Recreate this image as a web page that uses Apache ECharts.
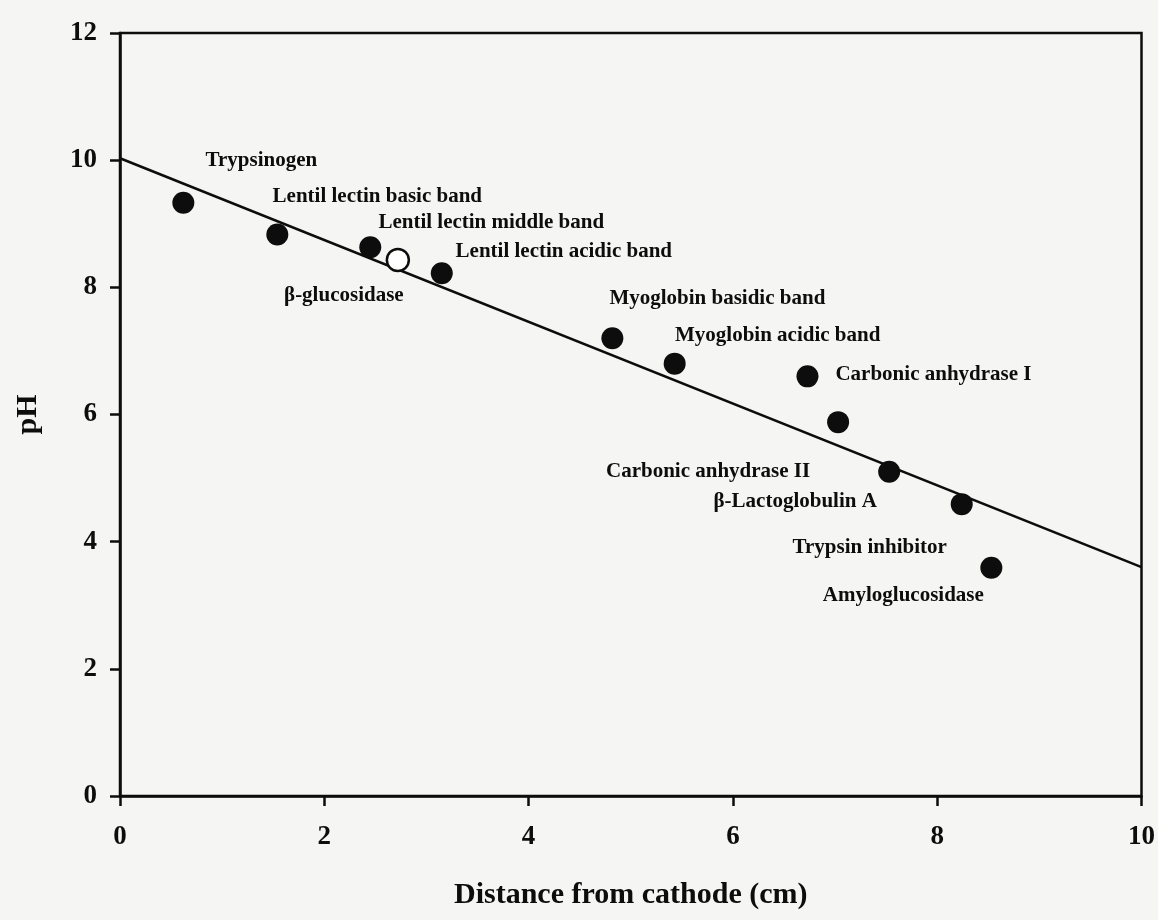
<!DOCTYPE html>
<html>
<head>
<meta charset="utf-8">
<script src="https://cdn.jsdelivr.net/npm/echarts@6/dist/echarts.min.js"></script>
<style>
  html, body { margin: 0; padding: 0; background: #f5f5f3; }
  #chart { width: 1158px; height: 920px; }
</style>
</head>
<body>
<div id="chart"></div>
<script>
// ---- Data ----
const proteins = [
  'Trypsinogen',
  'Lentil lectin basic band',
  'Lentil lectin middle band',
  'Lentil lectin acidic band',
  'β-glucosidase',
  'Myoglobin basidic band',
  'Myoglobin acidic band',
  'Carbonic anhydrase I',
  'Carbonic anhydrase II',
  'β-Lactoglobulin A',
  'Trypsin inhibitor',
  'Amyloglucosidase'
];
const distanceCm = [0.62, 1.54, 2.45, 3.15, 2.72, 4.82, 5.43, 6.73, 7.03, 7.53, 8.24, 8.53];
const pHValues   = [9.33, 8.83, 8.63, 8.22, 8.43, 7.20, 6.80, 6.60, 5.88, 5.10, 4.59, 3.59];
const hollowPoints = ['β-glucosidase'];

// fitted calibration line
const fitX = [0, 10];
const fitY = [10.03, 3.60];

const xTickValues = [0, 2, 4, 6, 8, 10];
const yTickValues = [0, 2, 4, 6, 8, 10, 12];

// ---- Styling (label placement relative to each marker, in px) ----
const labelOffsets = [
  [78, -42], [100, -38], [121, -25], [122, -22], [-54, 36], [105, -40],
  [103, -28], [126, -2], [-130, 49], [-94, 30], [-92, 43], [-88, 28]
];

const INK = '#0d0d0d';
const FONT = '"Liberation Serif", "Times New Roman", serif';

const scatterData = proteins.map((name, i) => {
  const hollow = hollowPoints.includes(name);
  return {
    name: name,
    value: [distanceCm[i], pHValues[i]],
    itemStyle: hollow
      ? { color: '#ffffff', borderColor: INK, borderWidth: 2.5, opacity: 1 }
      : { color: INK, borderColor: INK, borderWidth: 0, opacity: 1 }
  };
});

const lineData = fitX.map((x, i) => [x, fitY[i]]);

const chart = echarts.init(document.getElementById('chart'), null, { renderer: 'canvas' });
chart.setOption({
  backgroundColor: '#f5f5f3',
  animation: false,
  grid: {
    left: 120, right: 14, top: 33, bottom: 124,
    show: true, borderColor: INK, borderWidth: 2.5, backgroundColor: 'transparent'
  },
  xAxis: {
    type: 'value',
    min: xTickValues[0], max: xTickValues[xTickValues.length - 1], interval: 2,
    name: 'Distance from cathode (cm)',
    nameLocation: 'middle', nameGap: 84,
    nameTextStyle: { fontFamily: FONT, fontWeight: 'bold', fontSize: 30, color: INK },
    axisLine: { show: true, lineStyle: { color: INK, width: 2.5 } },
    axisTick: { show: true, inside: false, length: 10, lineStyle: { color: INK, width: 2.5 } },
    axisLabel: { margin: 28, fontFamily: FONT, fontWeight: 'bold', fontSize: 27, color: INK },
    splitLine: { show: false }
  },
  yAxis: {
    type: 'value',
    min: yTickValues[0], max: yTickValues[yTickValues.length - 1], interval: 2,
    name: 'pH',
    nameLocation: 'middle', nameGap: 77, nameRotate: 90,
    nameTextStyle: { fontFamily: FONT, fontWeight: 'bold', fontSize: 30, color: INK },
    axisLine: { show: true, lineStyle: { color: INK, width: 2.5 } },
    axisTick: { show: true, inside: false, length: 10, lineStyle: { color: INK, width: 2.5 } },
    axisLabel: { margin: 23, fontFamily: FONT, fontWeight: 'bold', fontSize: 27, color: INK },
    splitLine: { show: false }
  },
  series: [
    {
      type: 'line',
      data: lineData,
      showSymbol: false,
      symbol: 'none',
      lineStyle: { color: INK, width: 2.5 },
      z: 2,
      silent: true
    },
    {
      type: 'scatter',
      data: scatterData,
      symbol: 'circle',
      symbolSize: 22,
      z: 5,
      itemStyle: { opacity: 1 },
      label: {
        show: true,
        position: 'inside',
        align: 'center',
        verticalAlign: 'middle',
        formatter: p => p.name,
        fontFamily: FONT,
        fontWeight: 'bold',
        fontSize: 21,
        color: INK,
        opacity: 1
      },
      labelLayout: function (params) {
        const off = labelOffsets[params.dataIndex];
        return { dx: off[0], dy: off[1], hideOverlap: false, moveOverlap: null };
      }
    }
  ]
});
</script>
</body>
</html>
